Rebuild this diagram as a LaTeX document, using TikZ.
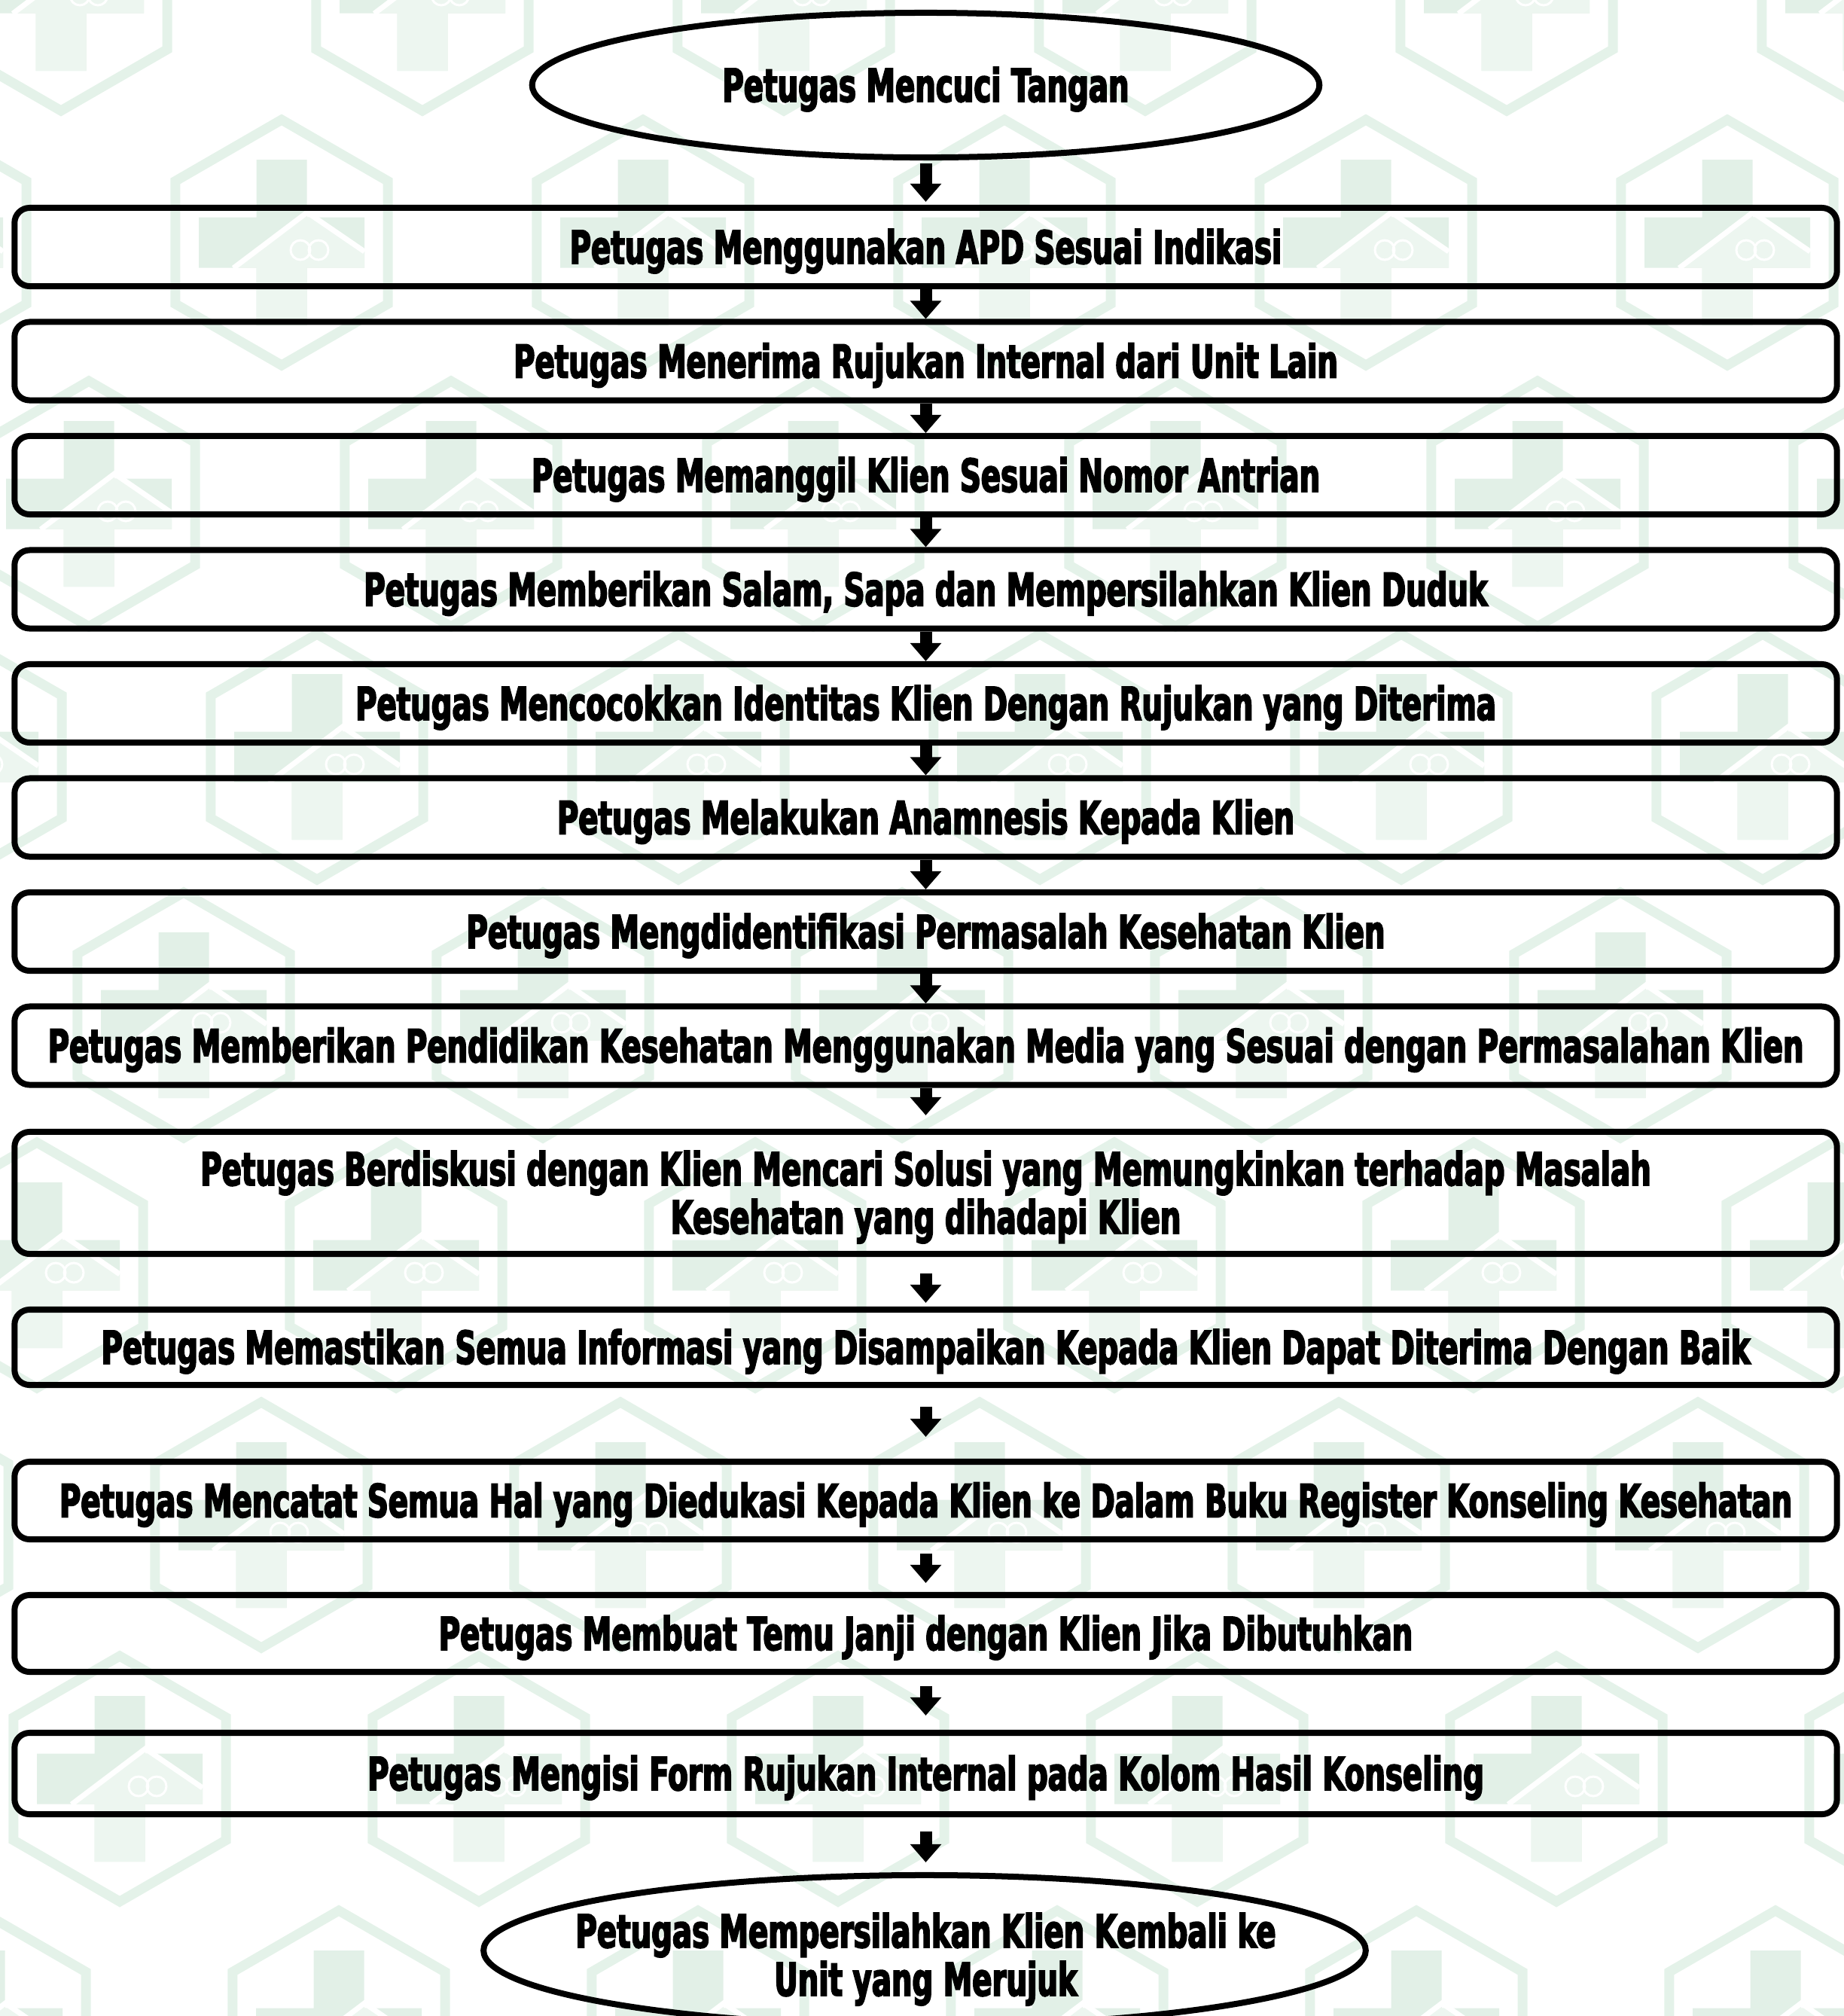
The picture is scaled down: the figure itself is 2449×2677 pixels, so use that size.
\documentclass[tikz,border=0pt]{standalone}
\usepackage{fontspec}
\newfontfamily\boxfont{DejaVu Sans}[FakeStretch=0.64, FakeBold=3]
\usetikzlibrary{shapes.geometric,arrows.meta}
\definecolor{hexcol}{RGB}{228,242,233}
\definecolor{crosscol}{RGB}{226,240,231}
\definecolor{housecol}{RGB}{237,246,240}
\tikzset{
  motif/.pic={
    \draw[hexcol, line width=0.13cm, line join=miter]
      (90:163) -- (150:163) -- (210:163) -- (270:163) -- (330:163) -- (30:163) -- cycle;
    \fill[crosscol] (-33.5,-110) rectangle (33.5,110) (-110,-33.5) rectangle (110,33.5);
    \begin{scope}
      \clip (-33.5,-110) rectangle (33.5,110) (-110,-33.5) rectangle (110,33.5);
      \fill[housecol] (34,-40) -- (150,39) -- (150,150) -- (-150,150) -- (-150,99) -- cycle;
    \end{scope}
    \draw[white, line width=0.07cm] (-64,34) -- (34,-40) -- (110,12);
    \draw[white, line width=0.03cm] (25,10) circle[radius=13] (49,10) circle[radius=13];
  },
  txt/.style={inner sep=0pt, align=center,
    font=\boxfont\bfseries\fontsize{17.2}{18.2}\selectfont, text height=0.44cm, text depth=0pt},
  box/.style={txt, draw, line width=0.08cm, rounded corners=0.2cm, minimum width=24.19cm,
    minimum height=1.04cm},
  oval/.style={draw, line width=0.08cm, ellipse, inner sep=0pt},
  arr/.style={line width=0.16cm, -{Triangle[width=0.40cm,length=0.24cm]}}
}
\begin{document}
\begin{tikzpicture}[x=0.01cm, y=-0.01cm]
\useasboundingbox (0,0) rectangle (2449,2677);
\begin{scope}
  \clip (0,0) rectangle (2449,2677);
  \foreach \yy/\xo/\dx in {-16/81/480, 322/374/480, 669/118/481, 1005/421/480,
      1348/244/477, 1680/49/477, 2025/347/477, 2362/159/477, 2700/450/477} {
    \foreach \k in {-1,...,5} {
      \pic at ({\xo+\k*\dx}, \yy) {motif};
    }
  }
\end{scope}

\node[oval, minimum width=10.45cm, minimum height=1.92cm] (e1) at (1229.5,113) {};
\node[txt] (e1t) at (e1.center) {Petugas Mencuci Tangan};
\node[box] (b1) at (1229.5,328) {Petugas Menggunakan APD Sesuai Indikasi};
\node[box] (b2) at (1229.5,479.5) {Petugas Menerima Rujukan Internal dari Unit Lain};
\node[box] (b3) at (1229.5,631) {Petugas Memanggil Klien Sesuai Nomor Antrian};
\node[box] (b4) at (1229.5,782.5) {Petugas Memberikan Salam, Sapa dan Mempersilahkan Klien Duduk};
\node[box] (b5) at (1229.5,934) {Petugas Mencocokkan Identitas Klien Dengan Rujukan yang Diterima};
\node[box] (b6) at (1229.5,1085.5) {Petugas Melakukan Anamnesis Kepada Klien};
\node[box] (b7) at (1229.5,1237) {Petugas Mengdidentifikasi Permasalah Kesehatan Klien};
\node[box] (b8) at (1229.5,1388.5) {Petugas Memberikan Pendidikan Kesehatan Menggunakan Media yang Sesuai dengan Permasalahan Klien};
\node[box, minimum height=1.62cm, text height=1.08cm] (b9) at (1229.5,1584) {Petugas Berdiskusi dengan Klien Mencari Solusi yang Memungkinkan terhadap Masalah\\Kesehatan yang dihadapi Klien};
\node[box, minimum height=1.00cm] (b10) at (1229.5,1789) {Petugas Memastikan Semua Informasi yang Disampaikan Kepada Klien Dapat Diterima Dengan Baik};
\node[box, minimum height=1.03cm] (b11) at (1229.5,1992.5) {Petugas Mencatat Semua Hal yang Diedukasi Kepada Klien ke Dalam Buku Register Konseling Kesehatan};
\node[box, minimum height=1.02cm] (b12) at (1229.5,2169) {Petugas Membuat Temu Janji dengan Klien Jika Dibutuhkan};
\node[box, minimum height=1.08cm] (b13) at (1229.5,2355) {Petugas Mengisi Form Rujukan Internal pada Kolom Hasil Konseling};
\node[oval, minimum width=11.71cm, minimum height=2.00cm] (e2) at (1228,2590) {};
\node[txt, text height=1.08cm] (e2t) at (1229.5,2596) {Petugas Mempersilahkan Klien Kembali ke\\Unit yang Merujuk};

\draw[arr, shorten <=0.04cm, shorten >=0.04cm] (e1.south) -- (b1.north);
\draw[arr] (b1.south) -- (b2.north);
\draw[arr] (b2.south) -- (b3.north);
\draw[arr] (b3.south) -- (b4.north);
\draw[arr] (b4.south) -- (b5.north);
\draw[arr] (b5.south) -- (b6.north);
\draw[arr] (b6.south) -- (b7.north);
\draw[arr] (b7.south) -- (b8.north);
\draw[arr, shorten >=0.18cm] (b8.south) -- (b9.north);
\draw[arr, shorten <=0.22cm, shorten >=0.05cm] (b9.south) -- (b10.north);
\draw[arr, shorten <=0.25cm, shorten >=0.29cm] (b10.south) -- (b11.north);
\draw[arr, shorten <=0.15cm, shorten >=0.12cm] (b11.south) -- (b12.north);
\draw[arr, shorten <=0.15cm, shorten >=0.19cm] (b12.south) -- (b13.north);
\draw[arr, shorten <=0.19cm, shorten >=0.13cm] (b13.south) -- (b13.south |- e2.north);
\end{tikzpicture}
\end{document}
